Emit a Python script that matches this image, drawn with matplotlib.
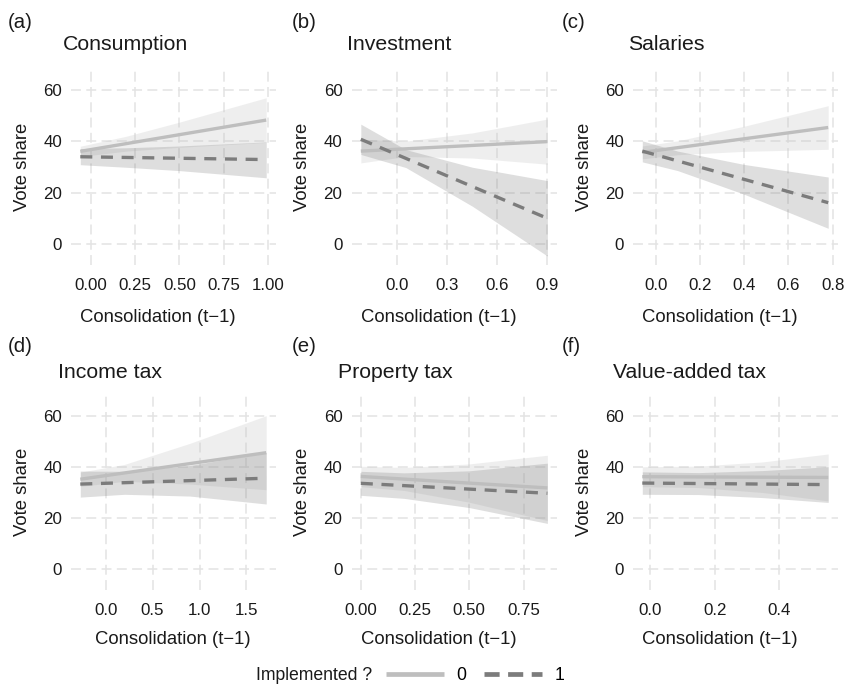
import numpy as np
import matplotlib
matplotlib.use("Agg")
from matplotlib import pyplot as plt
from matplotlib.lines import Line2D

plt.rcParams['font.family'] = ['Liberation Sans', 'DejaVu Sans']

# panel texts
letters = ["(a)", "(b)", "(c)", "(d)", "(e)", "(f)"]
titles = ["Consumption", "Investment", "Salaries",
          "Income tax", "Property tax", "Value-added tax"]

x_pts = [[-0.06, 0.20, 0.50, 0.99],
         [-0.22, 0.05, 0.45, 0.90],
         [-0.06, 0.10, 0.40, 0.78],
         [-0.27, 0.20, 0.90, 1.71],
         [0.00, 0.20, 0.50, 0.86],
         [-0.025, 0.15, 0.35, 0.553]]

# implemented = 0 (solid)
fit0 = [[36.1, 39.1, 42.6, 48.3],
        [36.2, 37.1, 38.4, 39.9],
        [35.7, 37.5, 41.0, 45.4],
        [35.2, 37.7, 41.3, 45.6],
        [36.3, 35.3, 33.7, 31.8],
        [36.2, 36.15, 36.0, 35.9]]
lo0 = [[34.1, 36.2, 37.7, 39.6],
       [31.6, 34.1, 33.5, 31.1],
       [33.2, 34.8, 36.1, 36.9],
       [32.4, 34.4, 33.3, 31.1],
       [32.3, 30.8, 26.2, 19.0],
       [32.3, 31.95, 30.0, 26.7]]
hi0 = [[38.1, 42.0, 47.5, 57.0],
       [40.8, 40.1, 43.3, 48.7],
       [38.2, 40.2, 45.9, 53.9],
       [38.0, 41.0, 49.3, 60.1],
       [40.3, 39.8, 41.2, 44.6],
       [40.1, 40.35, 42.0, 45.1]]

# implemented = 1 (dashed)
fit1 = [[34.0, 33.7, 33.4, 32.9],
        [40.8, 33.3, 22.3, 10.0],
        [36.2, 32.4, 25.2, 16.1],
        [33.3, 33.8, 34.6, 35.6],
        [33.6, 32.7, 31.35, 29.7],
        [33.7, 33.5, 33.3, 33.1]]
lo1 = [[30.9, 29.9, 28.6, 25.8],
       [34.9, 29.8, 14.7, -4.7],
       [32.0, 28.6, 19.4, 6.1],
       [28.2, 29.3, 28.6, 25.5],
       [28.9, 27.7, 24.1, 17.9],
       [29.3, 29.2, 28.0, 26.1]]
hi1 = [[37.2, 37.5, 38.2, 39.8],
       [46.7, 36.8, 29.9, 24.7],
       [40.2, 36.2, 31.0, 26.1],
       [38.4, 38.3, 40.6, 45.7],
       [38.3, 37.7, 38.5, 41.5],
       [38.1, 37.8, 38.6, 40.1]]

x_ticks = [[0.0, 0.25, 0.5, 0.75, 1.0],
           [0.0, 0.3, 0.6, 0.9],
           [0.0, 0.2, 0.4, 0.6, 0.8],
           [0.0, 0.5, 1.0, 1.5],
           [0.0, 0.25, 0.5, 0.75],
           [0.0, 0.2, 0.4]]
x_ticklabels = [["0.00", "0.25", "0.50", "0.75", "1.00"],
                ["0.0", "0.3", "0.6", "0.9"],
                ["0.0", "0.2", "0.4", "0.6", "0.8"],
                ["0.0", "0.5", "1.0", "1.5"],
                ["0.00", "0.25", "0.50", "0.75"],
                ["0.0", "0.2", "0.4"]]
y_ticks = [0, 20, 40, 60]

W, H = 844, 691
col0 = "#bebebe"
col1 = "#7c7c7c"
txt = "#1a1a1a"

# panel boxes in pixels: left, right, top, bottom
lefts = [71, 351.5, 633]
rights = [275.5, 556.7, 837.5]
tops = [68, 394]
bottoms = [265, 590]
letter_x = [8, 292, 562]
letter_y = [22, 347]
title_x = [[63, 347, 628], [58, 338, 613]]
title_y = [50, 378]
# x-title centre offset (px from panel centre) and drop below panel
xlab_dx = [-15.5, -15.5, -15.5, 0, -15.5, -15.5]
xlab_dy = [53, 50]

fig = plt.figure(figsize=(W / 100, H / 100), dpi=100)

for i in range(6):
    r, c = divmod(i, 3)
    l, rr, t, b = lefts[c], rights[c], tops[r], bottoms[r]
    ax = fig.add_axes([l / W, 1 - b / H, (rr - l) / W, (b - t) / H])
    x = np.array(x_pts[i])

    ax.fill_between(x, lo0[i], hi0[i], color=col0, alpha=0.25, lw=0)
    ax.fill_between(x, lo1[i], hi1[i], color=col1, alpha=0.25, lw=0)
    ax.plot([x[0], x[-1]], [fit0[i][0], fit0[i][-1]], color=col0, lw=2.4,
            solid_capstyle='butt')
    ax.plot([x[0], x[-1]], [fit1[i][0], fit1[i][-1]], color=col1, lw=2.4,
            linestyle=(0, (3.6, 2.6)), dash_capstyle='butt')

    ax.margins(x=0.05)
    ax.set_ylim(-8.2, 68.6)
    ax.set_xticks(x_ticks[i])
    ax.set_xticklabels(x_ticklabels[i])
    ax.set_yticks(y_ticks)
    ax.grid(True, color="#e3e3e3", lw=1.1, linestyle=(0, (6.5, 3.5)))
    ax.set_axisbelow(True)
    for s in ax.spines.values():
        s.set_visible(False)
    ax.tick_params(length=0, labelsize=12.2, labelcolor=txt)
    ax.tick_params(axis='x', pad=9.5)
    ax.tick_params(axis='y', pad=6.5)
    ax.set_xlabel("Consolidation (t\u22121)", fontsize=13.3, color=txt)
    ax.xaxis.label.set_va('center')
    ax.xaxis.set_label_coords(0.5 + xlab_dx[i] / (rr - l), -xlab_dy[r] / (b - t))
    ax.set_ylabel("Vote share", fontsize=13.3, color=txt, labelpad=9)

    fig.text(letter_x[c] / W, 1 - letter_y[r] / H, letters[i], fontsize=14.7,
             color=txt, ha='left', va='center')
    fig.text(title_x[r][c] / W, 1 - title_y[r] / H, titles[i], fontsize=15.3,
             color=txt, ha='left', va='baseline')

# legend at the bottom
fig.text(256 / W, 1 - 675 / H, "Implemented ?", fontsize=12.7, color=txt,
         ha='left', va='center')
handles = [Line2D([], [], color=col0, lw=3.4, solid_capstyle='butt'),
           Line2D([], [], color=col1, lw=3.4, linestyle=(0, (3.2, 1.8)),
                  dash_capstyle='butt')]
fig.legend(handles, ["0", "1"], loc='center left', ncol=2,
           bbox_to_anchor=(386 / W, 1 - 676 / H), frameon=False,
           fontsize=12.7, handlelength=3.3, handletextpad=0.7,
           columnspacing=1.0, borderpad=0, borderaxespad=0)

fig.savefig("out.png", dpi=100)
